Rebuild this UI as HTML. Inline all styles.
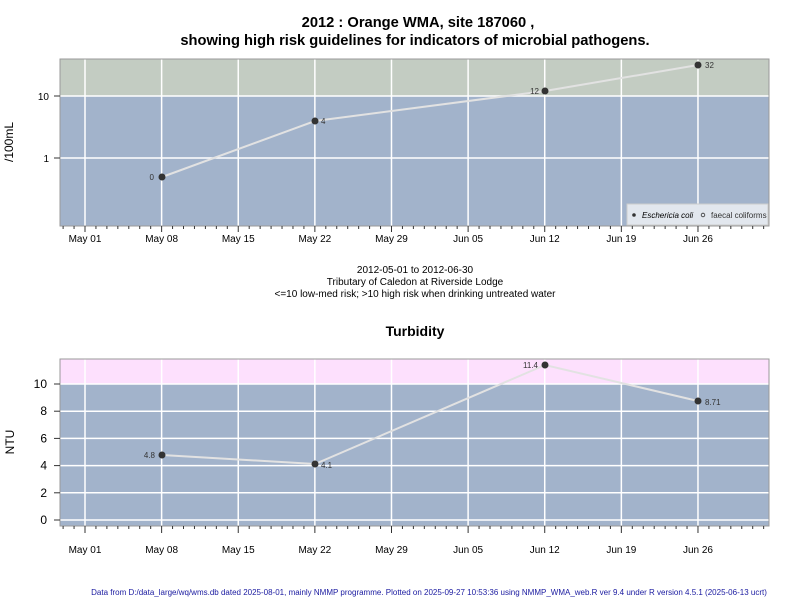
<!DOCTYPE html>
<html><head><meta charset="utf-8"><style>
body{margin:0;background:#fff}
svg text{font-family:"Liberation Sans",Arial,sans-serif}
</style></head><body>
<svg id="s" width="800" height="600" xmlns="http://www.w3.org/2000/svg">
<rect width="800" height="600" fill="#fff"/>
<text x="418" y="27" font-size="14.7" font-weight="bold" text-anchor="middle">2012 : Orange WMA, site 187060 ,</text>
<text x="415" y="45" font-size="14.7" font-weight="bold" text-anchor="middle">showing high risk guidelines for indicators of microbial pathogens.</text>
<!-- top panel -->
<rect x="60" y="59" width="709" height="37" fill="#c3ccc2"/>
<rect x="60" y="96" width="709" height="130" fill="#a2b3cb"/>
<g id="tg" stroke="#fff" stroke-width="1.5"></g>
<line x1="60" y1="96" x2="769" y2="96" stroke="#fff" stroke-width="1.5"/>
<line x1="60" y1="158" x2="769" y2="158" stroke="#fff" stroke-width="1.5"/>
<rect x="60" y="59" width="709" height="167" fill="none" stroke="#999"/>
<line x1="54" y1="96" x2="60" y2="96" stroke="#333"/>
<line x1="54" y1="158" x2="60" y2="158" stroke="#333"/>
<text x="49" y="100" font-size="10" text-anchor="end">10</text>
<text x="49" y="162" font-size="10" text-anchor="end">1</text>
<text transform="translate(13,142) rotate(-90)" font-size="12" text-anchor="middle">/100mL</text>
<polyline points="162,177 315,121 545,91 698,65" fill="none" stroke="#e2e2e2" stroke-width="2"/>
<g fill="#333"><circle cx="162" cy="177" r="3.5"/><circle cx="315" cy="121" r="3.5"/><circle cx="545" cy="91" r="3.5"/><circle cx="698" cy="65" r="3.5"/></g>
<g font-size="8" fill="#333"><text x="154" y="180" text-anchor="end">0</text><text x="321" y="124">4</text><text x="539" y="94" text-anchor="end">12</text><text x="705" y="68">32</text></g>
<rect x="627" y="204" width="141" height="21" fill="#e2e7ee" stroke="#ccc"/>
<circle cx="634" cy="215" r="1.8" fill="#333"/>
<text x="642" y="218" font-size="8" font-style="italic">Eschericia coli</text>
<circle cx="703" cy="215" r="1.8" fill="none" stroke="#333" stroke-width="0.8"/>
<text x="711" y="218" font-size="8" fill="#333">faecal coliforms</text>
<g id="ta" stroke="#333"></g>
<g id="tl" font-size="10" text-anchor="middle"></g>
<text x="415" y="273" font-size="10" text-anchor="middle">2012-05-01 to 2012-06-30</text>
<text x="415" y="285" font-size="10" text-anchor="middle">Tributary of Caledon at Riverside Lodge</text>
<text x="415" y="297" font-size="10" text-anchor="middle">&lt;=10 low-med risk; &gt;10 high risk when drinking untreated water</text>
<text x="415" y="336" font-size="14" font-weight="bold" text-anchor="middle">Turbidity</text>
<!-- bottom panel -->
<rect x="60" y="359" width="709" height="25" fill="#fde0fd"/>
<rect x="60" y="384" width="709" height="142" fill="#a2b3cb"/>
<g id="bg" stroke="#fff" stroke-width="1.5"></g>
<rect x="60" y="359" width="709" height="167" fill="none" stroke="#999"/>
<g id="by" font-size="12" text-anchor="end"></g>
<text transform="translate(14,442) rotate(-90)" font-size="12" text-anchor="middle">NTU</text>
<polyline points="162,455 315,464 545,365 698,401" fill="none" stroke="#e2e2e2" stroke-width="2"/>
<g fill="#333"><circle cx="162" cy="455" r="3.5"/><circle cx="315" cy="464" r="3.5"/><circle cx="545" cy="365" r="3.5"/><circle cx="698" cy="401" r="3.5"/></g>
<g font-size="8" fill="#333"><text x="155" y="458" text-anchor="end">4.8</text><text x="321" y="468">4.1</text><text x="538" y="368" text-anchor="end">11.4</text><text x="705" y="405">8.71</text></g>
<g id="ba" stroke="#333"></g>
<g id="bl" font-size="10" text-anchor="middle"></g>
<text x="429" y="595" font-size="8" fill="#1a1aa0" text-anchor="middle">Data from D:/data_large/wq/wms.db dated 2025-08-01, mainly NMMP programme. Plotted on 2025-09-27 10:53:36 using NMMP_WMA_web.R ver 9.4 under R version 4.5.1 (2025-06-13 ucrt)</text>
</svg>
<script>
var NS="http://www.w3.org/2000/svg";
function el(id,t,a,txt){var e=document.createElementNS(NS,t);for(var k in a)e.setAttribute(k,a[k]);if(txt)e.textContent=txt;document.getElementById(id).appendChild(e);}
var labs=["May 01","May 08","May 15","May 22","May 29","Jun 05","Jun 12","Jun 19","Jun 26"];
function X(d){return 85+d*10.946;}
for(var i=0;i<9;i++){var x=X(i*7);
el("tg","line",{x1:x,y1:59,x2:x,y2:226});el("bg","line",{x1:x,y1:359,x2:x,y2:526});
el("ta","line",{x1:x,y1:226,x2:x,y2:232});el("ba","line",{x1:x,y1:526,x2:x,y2:533});
el("tl","text",{x:x,y:242},labs[i]);el("bl","text",{x:x,y:553},labs[i]);}
for(var d=-2;d<63;d++){if(d%7==0)continue;var x=X(d);
el("ta","line",{x1:x,y1:226,x2:x,y2:229});el("ba","line",{x1:x,y1:526,x2:x,y2:529});}
for(var v=0;v<=10;v+=2){var y=520-v*13.6;
el("bg","line",{x1:60,y1:y,x2:769,y2:y});el("ba","line",{x1:54,y1:y,x2:60,y2:y});el("by","text",{x:47,y:y+4},String(v));}
</script>
</body></html>
